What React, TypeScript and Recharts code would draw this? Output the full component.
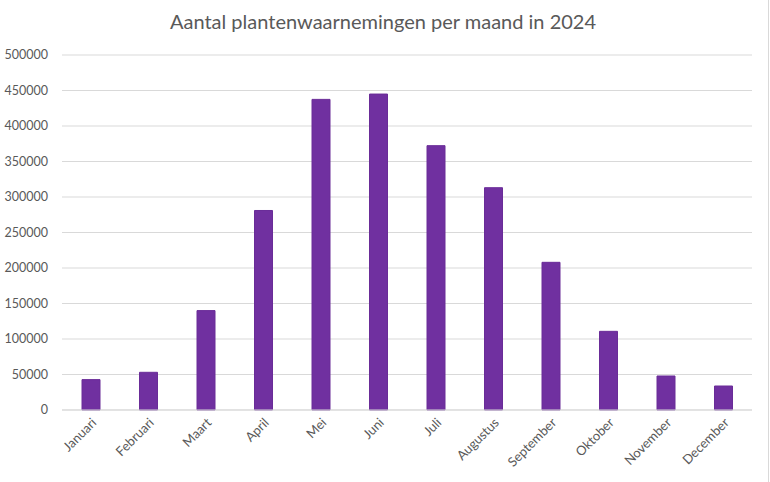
import { Bar, BarChart, CartesianGrid, XAxis, YAxis } from "recharts";

const months = [
  "Januari",
  "Februari",
  "Maart",
  "April",
  "Mei",
  "Juni",
  "Juli",
  "Augustus",
  "September",
  "Oktober",
  "November",
  "December",
];

const observations = [
  42800, 53100, 140000, 281000, 437500, 445000, 372300, 313100, 208000,
  110800, 47900, 33800,
];

const yTicks = [0, 50000, 100000, 150000, 200000, 250000, 300000, 350000, 400000, 450000, 500000];

const title = "Aantal plantenwaarnemingen per maand in 2024";

const data = months.map((month, i) => ({ month, value: observations[i] }));

const font = "Lato, 'Open Sans', sans-serif";

export default function App() {
  return (
    <div
      style={{
        position: "absolute",
        left: 0,
        top: 0,
        width: 770,
        height: 482,
        background: "#ffffff",
        fontFamily: font,
      }}
    >
      <div
        style={{
          position: "absolute",
          left: 768,
          top: 0,
          width: 1,
          height: 482,
          background: "#d9d9d9",
        }}
      />
      <div
        style={{
          position: "absolute",
          top: 9,
          left: 0,
          width: 766,
          textAlign: "center",
          fontSize: 20,
          color: "#595959",
        }}
      >
        {title}
      </div>
      <BarChart
        width={770}
        height={482}
        data={data}
        margin={{ top: 55, right: 18, left: 0, bottom: 0 }}
        barSize={18}
      >
        <CartesianGrid vertical={false} stroke="#d9d9d9" />
        <XAxis
          dataKey="month"
          interval={0}
          height={72}
          axisLine={{ stroke: "#d9d9d9" }}
          tickLine={false}
          angle={-45}
          textAnchor="end"
          tick={{ fill: "#595959", fontSize: 13, fontFamily: font }}
          tickMargin={1}
        />
        <YAxis
          width={62}
          domain={[0, 500000]}
          ticks={yTicks}
          interval={0}
          axisLine={false}
          tickLine={false}
          tickMargin={8}
          tick={{ fill: "#595959", fontSize: 12.5, fontFamily: font }}
        />
        <Bar
          dataKey="value"
          fill="#7030A0"
          stroke="#6a2c98"
          isAnimationActive={false}
        />
      </BarChart>
    </div>
  );
}
